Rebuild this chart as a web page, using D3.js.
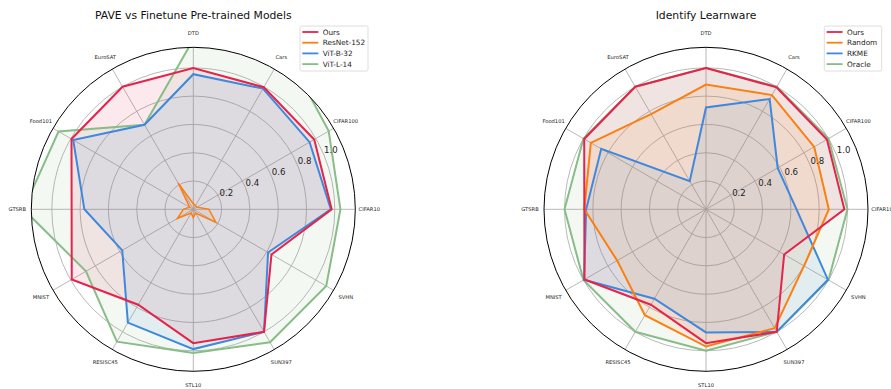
<!DOCTYPE html>
<html>
<head>
<meta charset="utf-8">
<script src="https://cdn.jsdelivr.net/npm/d3@7"></script>
<style>
  html, body { margin: 0; padding: 0; background: #fff; }
  svg { display: block; font-family: "DejaVu Sans", sans-serif; }
</style>
</head>
<body>
<svg id="chart" width="891" height="389"></svg>
<script>
// Benchmark datasets, placed counter-clockwise starting from the east axis
const categories = ["CIFAR10", "CIFAR100", "Cars", "DTD", "EuroSAT", "Food101",
                    "GTSRB", "MNIST", "RESISC45", "STL10", "SUN397", "SVHN"];
const radialTicks = [0.2, 0.4, 0.6, 0.8, 1.0];
const radialTickLabels = ["0.2", "0.4", "0.6", "0.8", "1.0"];
const radialMax = 1.145;

// Normalised accuracy per dataset
const oursScores      = [0.978, 0.987, 0.996, 0.998, 1.0, 0.994, 0.86, 0.992, 0.779, 0.946, 1.0, 0.638];
const resnet152Scores = [0.11, 0.03, 0.03, 0.04, 0.215, 0.03, 0.07, 0.13, 0.03, 0.06, 0.03, 0.185];
const vitB32Scores    = [0.972, 0.949, 0.985, 0.955, 0.69, 0.98, 0.77, 0.58, 0.925, 0.988, 1.0, 0.61];
const vitL14Scores    = [1.04, 1.105, 1.3, 1.2, 0.69, 1.10, 1.2, 0.876, 1.08, 1.016, 1.085, 1.085];

const randomScores    = [0.868, 0.883, 0.932, 0.882, 0.776, 0.94, 0.86, 0.725, 0.864, 0.97, 0.97, 0.80];
const rkmeScores      = [0.64, 0.585, 0.90, 0.72, 0.23, 0.855, 0.847, 0.995, 0.73, 0.87, 1.0, 0.995];
const oracleScores    = [1.0, 1.0, 1.0, 1.0, 1.0, 1.0, 1.0, 1.0, 1.0, 1.0, 1.0, 1.0];

const colors = { red: "#e5234b", orange: "#fb7f12", blue: "#3f88dc", green: "#88bd88" };

const panels = [
  {
    title: "PAVE vs Finetune Pre-trained Models",
    cx: 193.3, cy: 209.3,
    legend: { x: 300, y: 26, w: 68 },
    series: [
      { name: "Ours",       values: oursScores,      color: colors.red,    width: 2.0 },
      { name: "ResNet-152", values: resnet152Scores, color: colors.orange, width: 1.5 },
      { name: "ViT-B-32",   values: vitB32Scores,    color: colors.blue,   width: 2.0 },
      { name: "ViT-L-14",   values: vitL14Scores,    color: colors.green,  width: 2.0 }
    ]
  },
  {
    title: "Identify Learnware",
    cx: 706, cy: 209.3,
    legend: { x: 824.3, y: 26, w: 57.4 },
    series: [
      { name: "Ours",   values: oursScores,   color: colors.red,    width: 2.0 },
      { name: "Random", values: randomScores, color: colors.orange, width: 2.0 },
      { name: "RKME",   values: rkmeScores,   color: colors.blue,   width: 2.0 },
      { name: "Oracle", values: oracleScores, color: colors.green,  width: 2.0 }
    ]
  }
];

const outerRadius = 162;
const r = d3.scaleLinear().domain([0, radialMax]).range([0, outerRadius]);
const n = categories.length;
// d3 radial angles run clockwise from north; categories run counter-clockwise from east
const angleOf = i => Math.PI / 2 - i * 2 * Math.PI / n;

const svg = d3.select("#chart");
const defs = svg.append("defs");

panels.forEach((p, pi) => {
  const g = svg.append("g").attr("transform", `translate(${p.cx},${p.cy})`);

  const clipId = `clip-${pi}`;
  defs.append("clipPath").attr("id", clipId)
    .append("circle").attr("r", outerRadius);

  // grid rings
  g.selectAll("circle.ring").data(radialTicks).join("circle")
    .attr("class", "ring")
    .attr("r", d => r(d))
    .attr("fill", "none")
    .attr("stroke", "#b0b0b0")
    .attr("stroke-width", 0.9);

  // spokes
  g.selectAll("line.spoke").data(categories).join("line")
    .attr("class", "spoke")
    .attr("x1", 0).attr("y1", 0)
    .attr("x2", (d, i) => outerRadius * Math.sin(angleOf(i)))
    .attr("y2", (d, i) => -outerRadius * Math.cos(angleOf(i)))
    .attr("stroke", "#b0b0b0")
    .attr("stroke-width", 0.9);

  // series
  const line = d3.lineRadial()
    .angle((d, i) => angleOf(i))
    .radius(d => r(d))
    .curve(d3.curveLinearClosed);

  const sg = g.append("g").attr("clip-path", `url(#${clipId})`);
  p.series.forEach(s => {
    sg.append("path")
      .attr("d", line(s.values))
      .attr("fill", s.color)
      .attr("fill-opacity", 0.1)
      .attr("stroke", "none");
  });
  // outlines drawn with "Ours" on top
  p.series.slice().reverse().forEach(s => {
    sg.append("path")
      .attr("d", line(s.values))
      .attr("fill", "none")
      .attr("stroke", s.color)
      .attr("stroke-width", s.width)
      .attr("stroke-linejoin", "miter");
  });

  // outer frame
  g.append("circle").attr("r", outerRadius)
    .attr("fill", "none").attr("stroke", "#000").attr("stroke-width", 1);

  // radial tick labels along 22.5 degrees
  const la = 22.5 * Math.PI / 180;
  g.selectAll("text.rtick").data(radialTicks).join("text")
    .attr("class", "rtick")
    .attr("x", d => r(d) * Math.cos(la))
    .attr("y", d => -r(d) * Math.sin(la) - 2)
    .attr("font-size", 8.6)
    .attr("fill", "#222")
    .text((d, i) => radialTickLabels[i]);

  // category labels
  g.selectAll("text.cat").data(categories).join("text")
    .attr("class", "cat")
    .attr("x", (d, i) => 176 * Math.sin(angleOf(i)))
    .attr("y", (d, i) => -176 * Math.cos(angleOf(i)))
    .attr("text-anchor", "middle")
    .attr("dominant-baseline", "central")
    .attr("font-size", 5.2)
    .attr("fill", "#222")
    .text(d => d);

  // title
  svg.append("text")
    .attr("x", p.cx).attr("y", 19.3)
    .attr("text-anchor", "middle")
    .attr("font-size", 10.8)
    .attr("fill", "#111")
    .text(p.title);

  // legend
  const L = p.legend;
  const rowH = 10.7;
  const lg = svg.append("g").attr("transform", `translate(${L.x},${L.y})`);
  lg.append("rect")
    .attr("width", L.w).attr("height", 45)
    .attr("rx", 1.5)
    .attr("fill", "#fff").attr("fill-opacity", 0.8)
    .attr("stroke", "#d6d6d6").attr("stroke-width", 0.8);
  p.series.forEach((s, i) => {
    const y = 6 + i * rowH;
    lg.append("line")
      .attr("x1", 2.3).attr("x2", 18.3)
      .attr("y1", y).attr("y2", y)
      .attr("stroke", s.color).attr("stroke-width", 1.8);
    lg.append("text")
      .attr("x", 22.7).attr("y", y)
      .attr("dominant-baseline", "central")
      .attr("font-size", 7.3)
      .attr("fill", "#222")
      .text(s.name);
  });
});
</script>
</body>
</html>
